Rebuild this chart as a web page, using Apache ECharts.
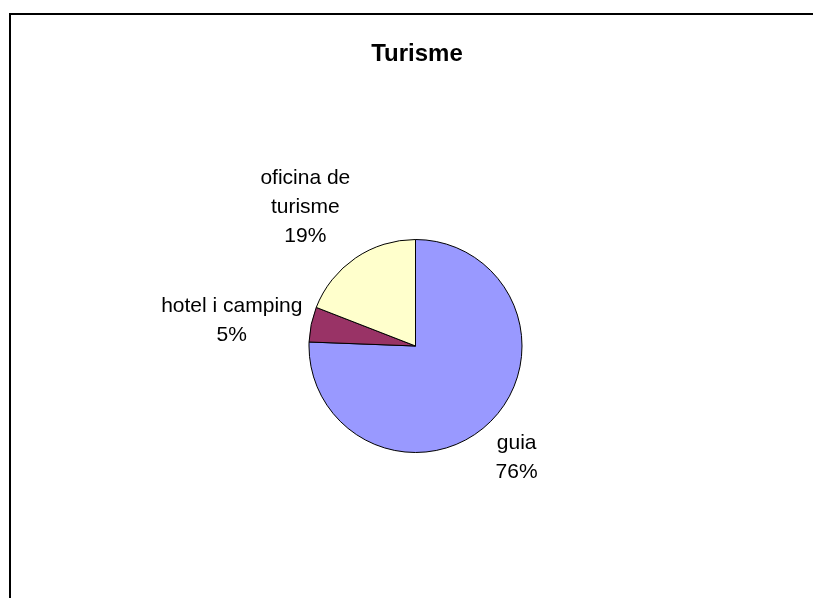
<!DOCTYPE html>
<html>
<head>
<meta charset="utf-8">
<script src="https://cdn.jsdelivr.net/npm/echarts@6/dist/echarts.min.js"></script>
<style>
html,body{margin:0;padding:0;background:#fff;}
#chart{width:813px;height:598px;}
</style>
</head>
<body>
<div id="chart"></div>
<script>
const categories = ['guia', 'hotel i camping', 'oficina de\nturisme'];
const values = [75.6, 5.3, 19.1];
const colors = ['#9999FF', '#993366', '#FFFFCC'];

const chart = echarts.init(document.getElementById('chart'), null, {renderer: 'canvas'});
const CX = 415.5, CY = 346, R = 106.5, GAP = 9;

function blend(v) {
  return Math.max(0, Math.min(1, (Math.abs(v) - 0.18) / 0.38));
}

function labelPos(p) {
  let lay = null;
  try {
    lay = chart.getModel().getSeriesByIndex(0).getData().getItemLayout(p.dataIndex);
  } catch (e) { lay = null; }
  let mid, cx = CX, cy = CY, r = R;
  if (lay && lay.startAngle != null) {
    mid = (lay.startAngle + lay.endAngle) / 2;
    cx = lay.cx; cy = lay.cy; r = lay.r;
  } else {
    const total = values.reduce((a, b) => a + b, 0);
    let acc = 0;
    for (let i = 0; i < p.dataIndex; i++) acc += values[i];
    mid = -Math.PI / 2 + (acc + values[p.dataIndex] / 2) / total * 2 * Math.PI;
  }
  const dx = Math.cos(mid), dy = Math.sin(mid);
  const w = p.labelRect.width, h = p.labelRect.height;
  const d = r + GAP;
  const x = cx + dx * d + Math.sign(dx) * w / 2 * blend(dx);
  const y = cy + dy * d + Math.sign(dy) * h / 2 * blend(dy);
  return {x: x, y: y, align: 'center', verticalAlign: 'middle'};
}

const option = {
  animation: false,
  backgroundColor: '#ffffff',
  title: {
    text: 'Turisme',
    left: 417,
    textAlign: 'center',
    top: 42,
    padding: 0,
    textStyle: {fontFamily: 'Liberation Sans', fontWeight: 'bold', fontSize: 24, color: '#000'}
  },
  graphic: [{
    type: 'rect',
    shape: {x: 10, y: 14, width: 830, height: 620},
    style: {fill: 'none', stroke: '#000', lineWidth: 2},
    silent: true,
    z: 100
  }],
  series: [{
    type: 'pie',
    center: [CX, CY],
    radius: R,
    startAngle: 90,
    clockwise: true,
    percentPrecision: 0,
    avoidLabelOverlap: false,
    data: categories.map((c, i) => ({name: c, value: values[i], itemStyle: {color: colors[i]}})),
    itemStyle: {borderColor: '#000', borderWidth: 1},
    label: {
      show: true,
      position: 'outside',
      formatter: '{b}\n{d}%',
      fontFamily: 'Liberation Sans',
      fontSize: 21,
      lineHeight: 29,
      color: '#000',
      align: 'center'
    },
    labelLine: {show: false},
    labelLayout: labelPos,
    emphasis: {disabled: true}
  }]
};
chart.setOption(option);
</script>
</body>
</html>
